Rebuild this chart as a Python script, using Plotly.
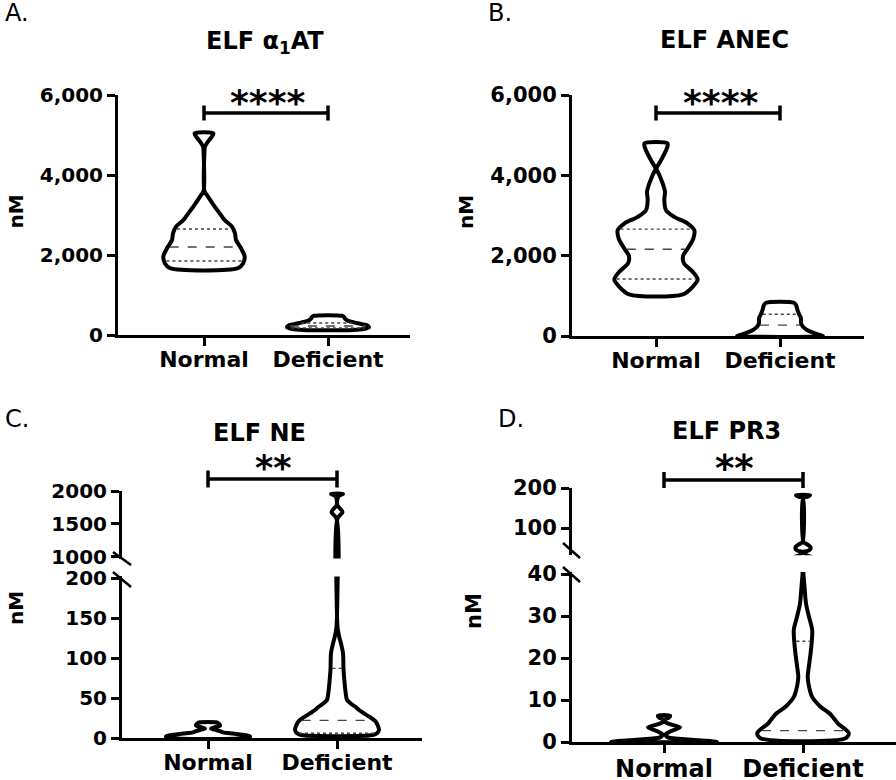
import numpy as np
import plotly.graph_objects as go

W, H = 896, 780

# ---------------- data ----------------
categories = ["Normal", "Deficient"]

# Panel A: ELF alpha1AT (nM) - violin profiles (value level, relative density)
a_norm_levels = [1670, 1790, 1960, 2170, 2375, 2540, 2710, 2870, 3040, 3210, 3460, 3600, 4600, 4700, 4800, 4900, 5040]
a_norm_density = [34, 39, 40.7, 37, 32, 31, 28, 20.7, 15.7, 10.7, 4, 0.5, 0.5, 0.8, 3, 6, 9.5]
a_norm_quart = [1850, 2200, 2650]
a_def_levels = [125, 150, 190, 230, 270, 310, 340, 370, 410, 450, 480]
a_def_density = [25, 36, 41, 40, 34, 27, 22, 19, 17, 16, 14]
a_def_quart = [175, 225, 300]

# Panel B: ELF ANEC (nM)
b_norm_levels = [1035, 1226, 1408, 1600, 1806, 1988, 2180, 2427, 2635, 2800, 2966, 3132, 3380, 3587, 3753, 4043, 4167, 4374, 4623, 4789]
b_norm_density = [27, 36.7, 41.7, 36.7, 28, 27, 31.7, 37.3, 38.3, 31.7, 18.3, 10, 8.3, 9, 7.3, 2.7, 0.5, 5, 10, 11.7]
b_norm_quart = [1420, 2160, 2660]
b_def_levels = [0, 25, 82, 149, 230, 315, 440, 522, 646, 771, 828]
b_def_density = [43, 40, 33, 27, 23, 21, 21, 19.5, 17.5, 16, 14]
b_def_quart = [270, 540]

# Panel C: ELF NE (nM), broken axis
c_norm_levels = [0.3, 2, 4, 5.5, 7, 8.5, 10.5, 12, 13.5, 15.5, 18, 19.6]
c_norm_density = [40, 42, 35, 25, 15, 12, 7, 3, 7, 12, 11, 8]
c_def_levels = [3.75, 6, 10, 15, 21, 26, 31, 35, 39, 43, 47.5, 56, 70, 86, 106, 118, 125, 131, 139,
                1580, 1680, 1780, 1880, 1925, 1955]
c_def_density = [36, 40, 42, 41, 38.5, 33, 26.7, 22, 18.3, 14, 10, 8.7, 7.5, 6.5, 6, 4, 2.5, 1.5, 0.5,
                 0.5, 5.5, 0.5, 0.5, 2, 6]
c_def_quart = [6, 22, 87]

# Panel D: ELF PR3 (nM), broken axis
d_norm_levels = [0.05, 0.4, 0.8, 1.1, 1.8, 2.5, 3.5, 4.3, 4.8, 5.4, 5.8, 6.3]
d_norm_density = [53, 35, 15, 4, 1.5, 6, 16, 5, 1, 1, 5, 6]
d_def_levels = [0.9, 2.1, 4.4, 6.8, 8.4, 10.8, 13.2, 15.5, 18.7, 22.7, 26.7, 29.8, 33, 37, 39.8, 40.5,
                42, 46, 52, 58, 62, 65, 176, 178, 182]
d_def_density = [42.5, 45.8, 35, 26.7, 17.5, 9, 6, 4.7, 6.3, 8.3, 9.2, 6, 3, 1.5, 0.5, 0.5,
                 4, 7, 7.5, 5, 2, 0.5, 0.5, 4, 7]
d_def_quart = [2.7, 24]

a_ticks = [0, 2000, 4000, 6000]
a_ticktext = ["0", "2,000", "4,000", "6,000"]
c_low_ticks = [0, 50, 100, 150, 200]
c_high_ticks = [1000, 1500, 2000]
d_low_ticks = [0, 10, 20, 30, 40]
d_high_ticks = [100, 200]

# ---------------- style ----------------
FONT = "DejaVu Sans"
LW = 4


def px(x):
    return x / W


def py(y):
    return 1 - y / H


fig = go.Figure()


def add_violin(xa, ya, center, levels, density, scale, quart=None, qstyles=None):
    lv = np.asarray(levels, float)
    w = np.asarray(density, float) * scale
    xs = np.concatenate([center + w, (center - w)[::-1], [center + w[0]]])
    ys = np.concatenate([lv, lv[::-1], [lv[0]]])
    fig.add_trace(go.Scatter(x=xs, y=ys, xaxis=xa, yaxis=ya, mode="lines",
                             line=dict(color="black", width=LW, shape="spline", smoothing=0.8),
                             fill="toself", fillcolor="white", hoverinfo="skip", showlegend=False))
    if quart:
        for q, st in zip(quart, qstyles):
            hw = max(np.interp(q, lv, density) - 2.0, 0) * scale
            fig.add_trace(go.Scatter(x=[center - hw, center + hw], y=[q, q], xaxis=xa, yaxis=ya,
                                     mode="lines", line=dict(color="#444", width=1.4, dash=st),
                                     hoverinfo="skip", showlegend=False))


QS3 = ["dot", "dash", "dot"]

# Panel A
sA = 1 / 124
add_violin("x", "y", 1, a_norm_levels, a_norm_density, sA, a_norm_quart, QS3)
add_violin("x", "y", 2, a_def_levels, a_def_density, sA, a_def_quart, QS3)
# Panel B
sB = 1 / 124
add_violin("x2", "y2", 1, b_norm_levels, b_norm_density, sB, b_norm_quart, QS3)
add_violin("x2", "y2", 2, b_def_levels, b_def_density, sB, b_def_quart, ["dash", "dot"])
# Panel C (bottom and top segments)
sC = 1 / 129
for xa, ya in (("x3", "y3"), ("x4", "y4")):
    add_violin(xa, ya, 1, c_norm_levels, c_norm_density, sC)
    add_violin(xa, ya, 2, c_def_levels, c_def_density, sC,
               c_def_quart if ya == "y3" else None, QS3)
# Panel D
sD = 1 / 139
for xa, ya in (("x5", "y5"), ("x6", "y6")):
    add_violin(xa, ya, 1, d_norm_levels, d_norm_density, sD)
    add_violin(xa, ya, 2, d_def_levels, d_def_density, sD,
               d_def_quart if ya == "y5" else None, ["dash", "dot"])


def xaxis(dom, rng, size, anchor, visible=True):
    return dict(domain=[px(dom[0]), px(dom[1])], range=rng, anchor=anchor, visible=visible,
                tickmode="array", tickvals=[1, 2], ticktext=categories, automargin=False,
                showline=True, linecolor="black", linewidth=3, ticks="outside",
                ticklen=8, tickwidth=3, tickcolor="black", showgrid=False, zeroline=False,
                ticklabelstandoff=-5,
                tickfont=dict(family=FONT, size=size, color="black", weight="bold"))


def yaxis(dom, rng, tv, tt, size, anchor):
    return dict(domain=[py(dom[0]), py(dom[1])], range=rng, anchor=anchor, automargin=False,
                tickmode="array", tickvals=tv, ticktext=tt,
                showline=True, linecolor="black", linewidth=3, ticks="outside",
                ticklen=8, tickwidth=3, tickcolor="black", showgrid=False, zeroline=False,
                tickfont=dict(family=FONT, size=size, color="black", weight="bold"))


fig.update_layout(
    width=W, height=H, autosize=False,
    margin=dict(l=0, r=0, t=0, b=0, pad=0, autoexpand=False),
    paper_bgcolor="white", plot_bgcolor="white", showlegend=False,
    xaxis=xaxis((118, 410), [1 - 86 / 124, 2 + 82 / 124], 22, "y"),
    yaxis=yaxis((335, 95), [0, 6000], a_ticks, a_ticktext, 20, "x"),
    xaxis2=xaxis((572, 864), [1 - 84 / 124, 2 + 84 / 124], 22, "y2"),
    yaxis2=yaxis((336, 95), [0, 6000], a_ticks, a_ticktext, 21, "x2"),
    xaxis3=xaxis((122, 422), [1 - 86 / 129, 2 + 85 / 129], 22, "y3"),
    yaxis3=yaxis((738, 576.4), [0, 202], c_low_ticks, [str(v) for v in c_low_ticks], 20, "x3"),
    xaxis4=xaxis((122, 422), [1 - 86 / 129, 2 + 85 / 129], 22, "y4", visible=False),
    yaxis4=yaxis((558.5, 491), [970, 2000], c_high_ticks, [str(v) for v in c_high_ticks], 20, "x4"),
    xaxis5=xaxis((572, 896), [1 - 92 / 139, 2 + 93 / 139], 24, "y5"),
    yaxis5=yaxis((742, 572), [0, 40.5], d_low_ticks, [str(v) for v in d_low_ticks], 21, "x5"),
    xaxis6=xaxis((572, 896), [1 - 92 / 139, 2 + 93 / 139], 24, "y6", visible=False),
    yaxis6=yaxis((555.2, 488), [32, 200], d_high_ticks, [str(v) for v in d_high_ticks], 21, "x6"),
)

shapes = []
# break marks
for (x0, y0, x1, y1) in [(113, 552, 131, 565), (113, 572, 131, 587),
                         (563, 543, 580, 558), (563, 567, 580, 582)]:
    shapes.append(dict(type="line", xref="paper", yref="paper", x0=px(x0), y0=py(y0),
                       x1=px(x1), y1=py(y1), line=dict(color="black", width=2.5)))


# significance brackets (x from category positions, y in paper)
def bracket(xref, ybar, cap):
    out = [dict(type="line", xref=xref, yref="paper", x0=1, x1=2, y0=py(ybar), y1=py(ybar),
                line=dict(color="black", width=3.5))]
    for c in (1, 2):
        out.append(dict(type="line", xref=xref, yref="paper", x0=c, x1=c,
                        y0=py(ybar - cap), y1=py(ybar + cap), line=dict(color="black", width=3.5)))
    return out


shapes += bracket("x", 113, 7.5)
shapes += bracket("x2", 113, 7.5)
shapes += bracket("x3", 479, 8.5)
shapes += bracket("x6", 480, 8)
fig.update_layout(shapes=shapes)

ann = []


def text(x, y, s, size, bold=True, angle=0, xanchor="center"):
    ann.append(dict(x=px(x), y=py(y), xref="paper", yref="paper", text=s, showarrow=False,
                    xanchor=xanchor, yanchor="middle", textangle=angle,
                    font=dict(family=FONT, size=size, color="black",
                              weight="bold" if bold else "normal")))


# panel letters
text(3, 13, "A.", 24, bold=False, xanchor="left")
text(486, 13, "B.", 24, bold=False, xanchor="left")
text(3, 419, "C.", 24, bold=False, xanchor="left")
text(496, 419, "D.", 24, bold=False, xanchor="left")
# titles
text(265, 42, "ELF α<sub>1</sub>AT", 24)
text(724, 40, "ELF ANEC", 24)
text(259, 433, "ELF NE", 24)
text(726, 431, "ELF PR3", 24)
# y titles
text(15.5, 212, "nM", 20, angle=-90)
text(466, 212, "nM", 20, angle=-90)
text(16, 608, "nM", 20, angle=-90)
text(474, 611, "nM", 21, angle=-90)
# stars
text(267, 103, "****", 36)
text(720, 103, "****", 36)
text(273, 468, "**", 35)
text(734, 468, "**", 37)
fig.update_layout(annotations=ann)

fig.write_html("out.html", config={"displayModeBar": False},
               post_script="document.body.style.margin='0px';document.body.style.overflow='hidden';")
